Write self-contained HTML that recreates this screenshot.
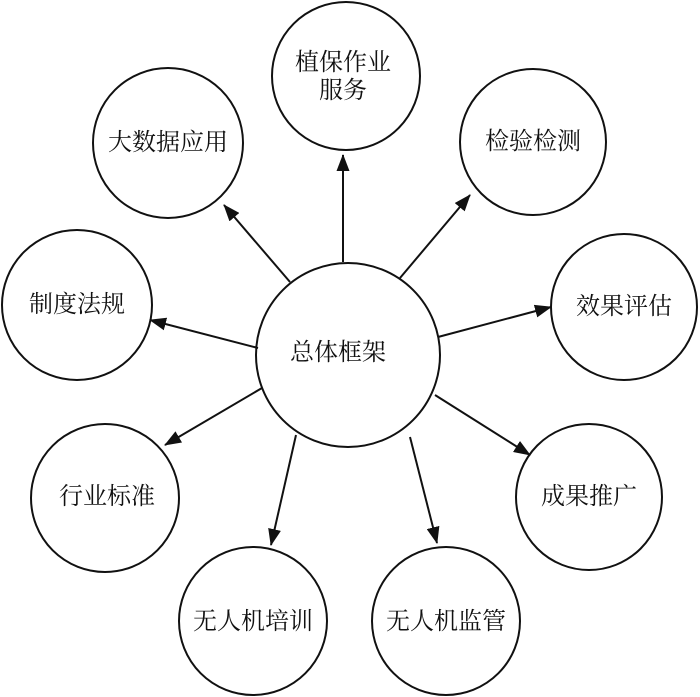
<!DOCTYPE html>
<html><head><meta charset="utf-8"><style>
html,body{margin:0;padding:0;background:#fff;}
svg{display:block;}
text{font-family:"Liberation Serif","Noto Serif CJK SC",serif;font-size:24px;fill:#111;text-anchor:middle;dominant-baseline:central;}
</style></head><body>
<svg width="700" height="697" viewBox="0 0 700 697" xmlns="http://www.w3.org/2000/svg">
<defs><marker id="a" markerWidth="17" markerHeight="13" refX="16" refY="6.5" orient="auto" markerUnits="userSpaceOnUse"><path d="M0,0 L17,6.5 L0,13 Z" fill="#111"/></marker></defs>
<g fill="none" stroke="#111" stroke-width="2">
<circle cx="348" cy="355" r="92"/>
<circle cx="346" cy="76" r="74"/>
<circle cx="168" cy="143" r="75"/>
<circle cx="533" cy="142" r="73"/>
<circle cx="77" cy="305" r="75"/>
<circle cx="624" cy="307" r="73"/>
<circle cx="105" cy="498" r="74"/>
<circle cx="589" cy="497" r="73"/>
<circle cx="253" cy="621" r="74"/>
<circle cx="446" cy="621" r="74"/>
<g marker-end="url(#a)">
<line x1="343" y1="262" x2="343" y2="155"/>
<line x1="290" y1="282" x2="224" y2="205"/>
<line x1="400" y1="278" x2="470" y2="195"/>
<line x1="258" y1="348" x2="150" y2="320"/>
<line x1="438" y1="337" x2="551" y2="307"/>
<line x1="262" y1="388" x2="165" y2="445"/>
<line x1="435" y1="395" x2="530" y2="455"/>
<line x1="296" y1="435" x2="271" y2="545"/>
<line x1="410" y1="437" x2="437" y2="543"/>
</g></g>
<text x="338" y="353">总体框架</text>
<text x="343" y="63">植保作业</text>
<text x="343" y="91">服务</text>
<text x="168" y="143">大数据应用</text>
<text x="533" y="142">检验检测</text>
<text x="77" y="305">制度法规</text>
<text x="624" y="307">效果评估</text>
<text x="107" y="497">行业标准</text>
<text x="589" y="497">成果推广</text>
<text x="253" y="622">无人机培训</text>
<text x="446" y="622">无人机监管</text>
</svg>
</body></html>
